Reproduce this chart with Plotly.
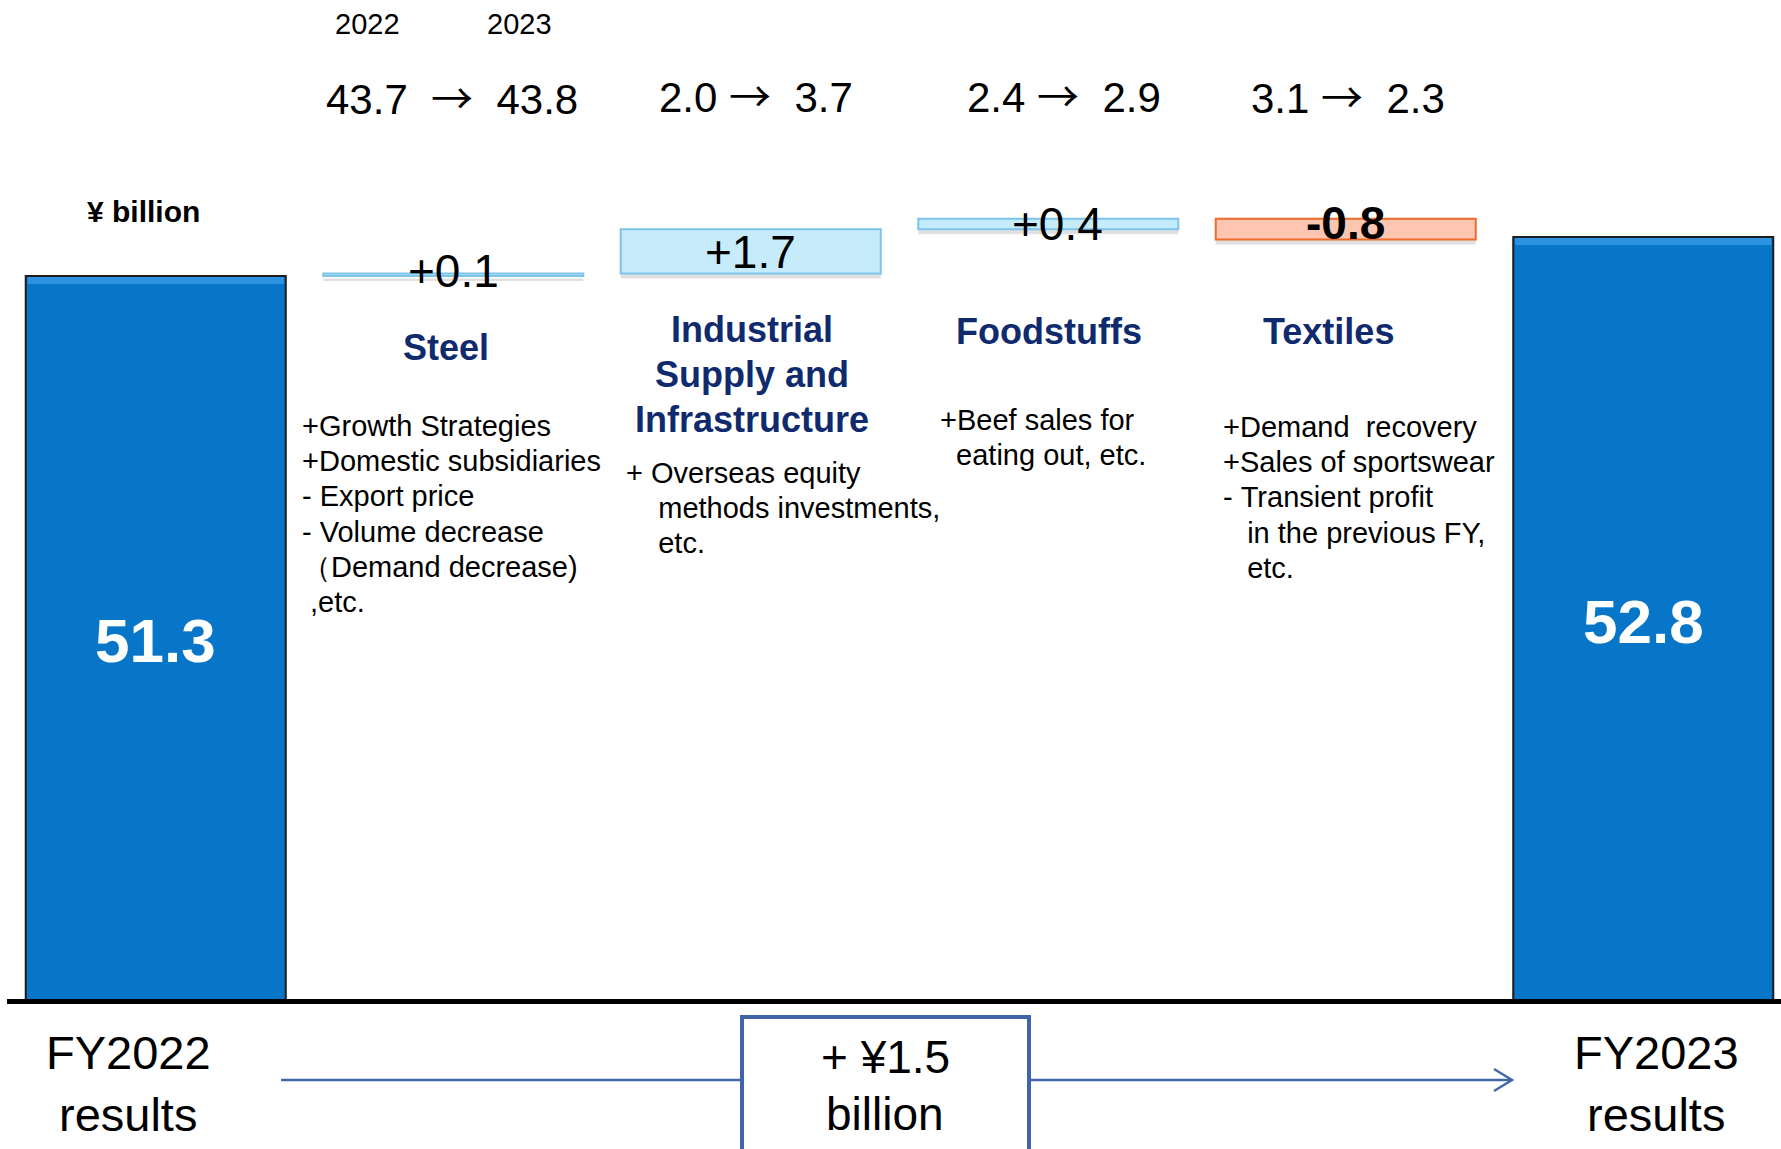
import numpy as np
import plotly.graph_objects as go

# ---------------- data ----------------
categories = ["FY2022 results", "Steel", "Industrial Supply and Infrastructure",
              "Foodstuffs", "Textiles", "FY2023 results"]
fy2022_total = 51.3
fy2023_total = 52.8
segment_change = [0.1, 1.7, 0.4, -0.8]
profit_2022 = [43.7, 2.0, 2.4, 3.1]
profit_2023 = [43.8, 3.7, 2.9, 2.3]
year_labels = ["2022", "2023"]
net_change = 1.5
unit_label = "¥ billion"
segment_titles = [["Steel"],
                  ["Industrial", "Supply and", "Infrastructure"],
                  ["Foodstuffs"],
                  ["Textiles"]]
segment_notes = [
    ["+Growth Strategies", "+Domestic subsidiaries", "- Export price",
     "- Volume decrease", "（Demand decrease)", " ,etc."],
    ["+ Overseas equity", "    methods investments,", "    etc."],
    ["+Beef sales for", "  eating out, etc."],
    ["+Demand  recovery", "+Sales of sportswear", "- Transient profit",
     "   in the previous FY,", "   etc."],
]

# ---------------- layout geometry (pixels) ----------------
W, H = 1781, 1149
ML, MR, MT, MB = 7, 0, 0, 150
PLOT_W, PLOT_H = W - ML - MR, H - MT - MB
PX_PER_UNIT = 26.0          # vertical scale of the broken value axis
SLOT = 297.5                # horizontal pixels per category
START_TOP_PX = 276          # where the FY2022 bar top sits
BAR_W = 0.874

y_top = fy2022_total + START_TOP_PX / PX_PER_UNIT
y_bot = y_top - PLOT_H / PX_PER_UNIT
x_range = [-0.5, -0.5 + PLOT_W / SLOT]


def px(x):
    return (x - ML) / PLOT_W


def py(y):
    return (MT + PLOT_H - y) / PLOT_H


def nb(s):
    return s.replace(" ", "\u00a0")


FONT = "Liberation Sans, Arial, sans-serif"
ARROW_FONT = "'Noto Sans CJK JP'"
NAVY = "#0f2b6e"
TOTAL_BLUE = "#0776c8"
TOTAL_HIGHLIGHT = "#2b93e2"
UP_FILL, UP_LINE = "#c6ebfb", "#7cc4ea"
DOWN_FILL, DOWN_LINE = "#fcc6b1", "#ee6b2b"
ARROW_BLUE = "#4467ab"

# ---------------- bars ----------------
running = fy2022_total + np.concatenate([[0.0], np.cumsum(segment_change)[:-1]])
bases = [0.0] + list(running) + [0.0]
heights = [fy2022_total] + segment_change + [fy2023_total]
fills = [TOTAL_BLUE] + [UP_FILL if d >= 0 else DOWN_FILL for d in segment_change] + [TOTAL_BLUE]
edges = ["#1c1c1c"] + [UP_LINE if d >= 0 else DOWN_LINE for d in segment_change] + ["#1c1c1c"]

fig = go.Figure()

# soft drop shadow beneath the change boxes (drawn first, nudged down a few px)
shadow_drop = 5 / PX_PER_UNIT
fig.add_trace(go.Bar(
    x=categories[1:5], y=segment_change,
    base=[b - shadow_drop for b in running],
    width=BAR_W,
    marker=dict(color="rgba(0,0,0,0.12)", line=dict(width=0)),
    hoverinfo="skip", showlegend=False,
))

fig.add_trace(go.Bar(
    x=categories, y=heights, base=bases, width=BAR_W,
    marker=dict(color=fills, line=dict(color=edges, width=2)),
    hoverinfo="skip", showlegend=False,
))

# lighter bevel strip along the top of the two total bars
bevel = 7 / PX_PER_UNIT
totals_x = [categories[0], categories[-1]]
totals_v = [fy2022_total, fy2023_total]
fig.add_trace(go.Bar(
    x=totals_x, y=[bevel, bevel], base=[v - bevel - 1 / PX_PER_UNIT for v in totals_v],
    width=BAR_W - 0.012,
    marker=dict(color=TOTAL_HIGHLIGHT, line=dict(width=0)),
    hoverinfo="skip", showlegend=False,
))

annotations = []


def add_text(text, x, y, size, color="black", bold=False, xanchor="center",
             xref="paper", yref="paper", xshift=0, yshift=0):
    if bold:
        text = f"<b>{text}</b>"
    annotations.append(dict(
        text=text, x=x, y=y, xref=xref, yref=yref, xanchor=xanchor,
        yanchor="middle", showarrow=False, xshift=xshift, yshift=yshift,
        font=dict(family=FONT, size=size, color=color),
    ))


# change labels on the waterfall boxes
label_shift = [(0, 4), (0, -1), (9, 0), (0, 6)]
for i, d in enumerate(segment_change):
    add_text(f"{d:+.1f}", categories[i + 1], running[i] + d / 2, 46,
             bold=d < 0, xref="x", yref="y",
             xshift=label_shift[i][0], yshift=label_shift[i][1])

# totals written inside the blue bars
for cat, val in zip(totals_x, totals_v):
    add_text(f"{val:.1f}", cat, (val + y_bot) / 2, 62, color="white",
             bold=True, xref="x", yref="y", yshift=-3)

# unit
add_text(unit_label, px(143), py(211.5), 30, bold=True)

# year headings and segment profit transitions
for lbl, xp in zip(year_labels, [367, 519]):
    add_text(lbl, px(xp), py(24), 29)
arrow = f'<span style="font-family:{ARROW_FONT}">→</span>'
trans_pos = [(452, 100), (756, 97), (1064, 97), (1348, 98)]
for i, (a, b) in enumerate(zip(profit_2022, profit_2023)):
    lead = "\u00a0\u00a0" if i == 0 else "\u00a0"
    add_text(f"{a:.1f}{lead}{arrow}\u00a0\u00a0{b:.1f}", px(trans_pos[i][0]),
             py(trans_pos[i][1]), 42, yshift=4)

# segment titles
title_pos = [(446, 347), (752, 329), (1049, 332), (1328, 332)]
for lines, (xp, yp) in zip(segment_titles, title_pos):
    for k, line in enumerate(lines):
        add_text(line, px(xp), py(yp + 45 * k), 36, color=NAVY, bold=True)

# segment notes
note_pos = [(300, 426), (624, 473), (938, 420), (1221, 427)]
for lines, (xp, yp) in zip(segment_notes, note_pos):
    for k, line in enumerate(lines):
        add_text(nb(line), px(xp), py(yp + 35.2 * k), 29, xanchor="left")

# period labels under the baseline
for cat, xp in [(categories[0], 128), (categories[-1], 1656)]:
    for k, word in enumerate(cat.split(" ")):
        add_text(word, px(xp), py(1052 + 62 * k), 47)

# overall change box
add_text(f"+ ¥{net_change:.1f}", px(885), py(1057), 46)
add_text("billion", px(885), py(1114), 46)

shapes = [
    dict(type="line", xref="paper", yref="paper", x0=px(281), x1=px(741),
         y0=py(1080), y1=py(1080), line=dict(color=ARROW_BLUE, width=2.5)),
    dict(type="line", xref="paper", yref="paper", x0=px(1030), x1=px(1511),
         y0=py(1080), y1=py(1080), line=dict(color=ARROW_BLUE, width=2.5)),
    dict(type="path", xref="paper", yref="paper",
         path=f"M {px(1494)},{py(1069)} L {px(1512)},{py(1080)} L {px(1494)},{py(1091)}",
         line=dict(color=ARROW_BLUE, width=2.5)),
    dict(type="rect", xref="paper", yref="paper", x0=px(742), x1=px(1029),
         y0=py(1017), y1=py(1175), line=dict(color="#3f64a8", width=4),
         fillcolor="rgba(0,0,0,0)"),
]

fig.update_layout(
    width=W, height=H,
    margin=dict(l=ML, r=MR, t=MT, b=MB, pad=0),
    paper_bgcolor="white", plot_bgcolor="white",
    barmode="overlay",
    xaxis=dict(type="category", categoryorder="array", categoryarray=categories,
               range=x_range, showticklabels=False, ticks="", showgrid=False,
               zeroline=False, showline=True, linecolor="black", linewidth=5),
    yaxis=dict(range=[y_bot, y_top], visible=False, showgrid=False, zeroline=False),
    annotations=annotations,
    shapes=shapes,
    showlegend=False,
)

fig.write_html("out.html")
